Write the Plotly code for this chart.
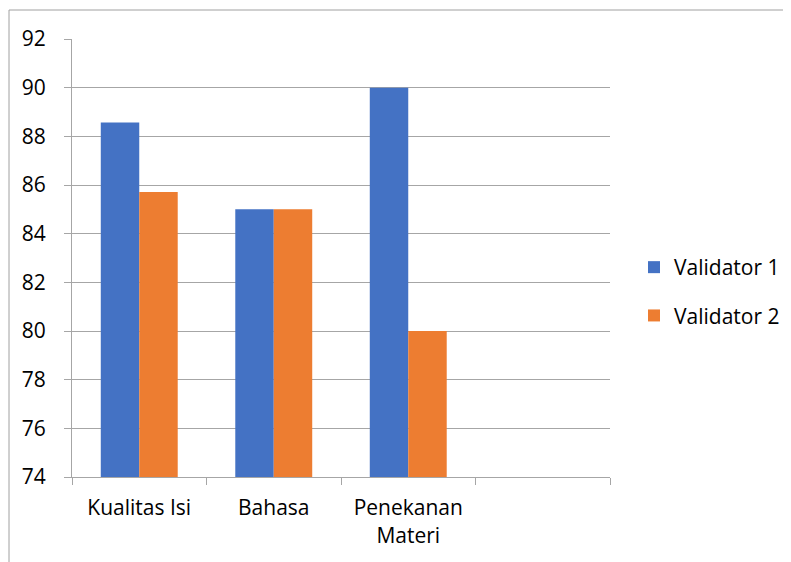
import plotly.graph_objects as go

categories = ["Kualitas Isi", "Bahasa", "Penekanan<br>Materi", " "]
validator1 = [88.57, 85, 90]
validator2 = [85.71, 85, 80]
series_names = ["Validator 1", "Validator 2"]
y_ticks = [74, 76, 78, 80, 82, 84, 86, 88, 90, 92]

# page body adds an 8px offset; work in screen pixels and subtract it
OFF = 8
W, H = 791 - OFF, 562 - OFF
L, R, T, B = 72 - OFF, 610 - OFF, 39 - OFF, 477 - OFF
pw, ph = R - L, B - T

FONT = "Open Sans, sans-serif"
FS = 21

fig = go.Figure()
fig.add_trace(go.Bar(x=categories[:3], y=[v - 74 for v in validator1], base=74,
                     name=series_names[0], marker=dict(color="#4472C4", line=dict(width=0)),
                     legendgroup="a"))
fig.add_trace(go.Bar(x=categories[:3], y=[v - 74 for v in validator2], base=74,
                     name=series_names[1], marker=dict(color="#ED7D31", line=dict(width=0)),
                     legendgroup="b"))

def px_x(p):
    return (p - OFF - L) / pw

def px_y(p):
    return (B - (p - OFF)) / ph

fig.update_layout(
    width=W, height=H,
    margin=dict(l=L, r=W - R, t=T, b=H - B, pad=0, autoexpand=False),
    paper_bgcolor="white", plot_bgcolor="white",
    font=dict(family=FONT, size=FS, color="black"),
    barmode="group", bargap=0.428, bargroupgap=0,
    showlegend=True,
    legend=dict(x=px_x(634), y=px_y(291.5), xanchor="left", yanchor="middle",
                xref="paper", yref="paper",
                traceorder="grouped", tracegroupgap=18,
                font=dict(family=FONT, size=FS, color="black"),
                bgcolor="rgba(0,0,0,0)"),
    xaxis=dict(type="category", categoryorder="array", categoryarray=categories,
               range=[-0.5, 3.5], tickson="boundaries", ticks="outside", ticklen=7,
               tickcolor="#a6a6a6", showline=True, linecolor="#a6a6a6", linewidth=1,
               showgrid=False, tickfont=dict(family=FONT, size=FS, color="black"),
               ticklabelstandoff=12, fixedrange=True),
    yaxis=dict(range=[74, 92], tickvals=y_ticks, ticktext=[str(v) for v in y_ticks],
               ticks="outside", ticklen=7, tickcolor="#a6a6a6",
               showline=True, linecolor="#a6a6a6", linewidth=1,
               showgrid=True, gridcolor="#a6a6a6", gridwidth=1, zeroline=False,
               tickfont=dict(family=FONT, size=FS, color="black"),
               ticklabelstandoff=14, fixedrange=True),
    shapes=[
        dict(type="line", xref="paper", yref="paper",
             x0=px_x(9), x1=px_x(9), y0=px_y(10), y1=px_y(600),
             line=dict(color="#a0a0a0", width=1)),
        dict(type="line", xref="paper", yref="paper",
             x0=px_x(9), x1=px_x(820), y0=px_y(10), y1=px_y(10),
             line=dict(color="#a0a0a0", width=1)),
    ],
)

fig.write_html("out.html")
